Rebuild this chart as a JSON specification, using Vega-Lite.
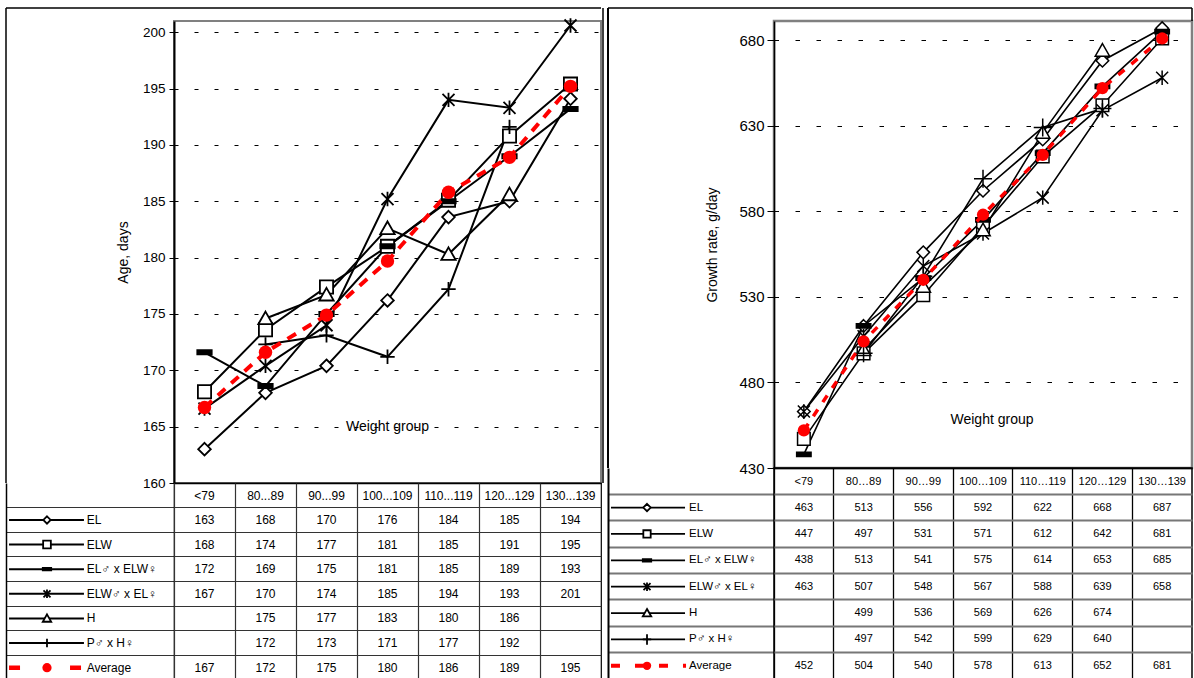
{
  "$schema": "https://vega.github.io/schema/vega-lite/v6.json",
  "padding": {"left": 5, "top": 5, "right": 0, "bottom": 0},
  "background": "white",
  "config": {"font": "Liberation Sans", "view": {"stroke": null}},
  "datasets": {
    "age": [
      {"s": "EL", "c": "<79", "v": 163.0}, {"s": "EL", "c": "80...89", "v": 168.0}, {"s": "EL", "c": "90...99", "v": 170.4}, {"s": "EL", "c": "100...109", "v": 176.2}, {"s": "EL", "c": "110...119", "v": 183.6}, {"s": "EL", "c": "120...129", "v": 185.0}, {"s": "EL", "c": "130...139", "v": 194.1},
      {"s": "ELW", "c": "<79", "v": 168.1}, {"s": "ELW", "c": "80...89", "v": 173.6}, {"s": "ELW", "c": "90...99", "v": 177.4}, {"s": "ELW", "c": "100...109", "v": 181.0}, {"s": "ELW", "c": "110...119", "v": 185.1}, {"s": "ELW", "c": "120...129", "v": 190.8}, {"s": "ELW", "c": "130...139", "v": 195.4},
      {"s": "EL♂ x ELW♀", "c": "<79", "v": 171.6}, {"s": "EL♂ x ELW♀", "c": "80...89", "v": 168.6}, {"s": "EL♂ x ELW♀", "c": "90...99", "v": 175.0}, {"s": "EL♂ x ELW♀", "c": "100...109", "v": 181.0}, {"s": "EL♂ x ELW♀", "c": "110...119", "v": 185.0}, {"s": "EL♂ x ELW♀", "c": "120...129", "v": 189.0}, {"s": "EL♂ x ELW♀", "c": "130...139", "v": 193.2},
      {"s": "ELW♂ x EL♀", "c": "<79", "v": 166.6}, {"s": "ELW♂ x EL♀", "c": "80...89", "v": 170.4}, {"s": "ELW♂ x EL♀", "c": "90...99", "v": 174.0}, {"s": "ELW♂ x EL♀", "c": "100...109", "v": 185.2}, {"s": "ELW♂ x EL♀", "c": "110...119", "v": 194.0}, {"s": "ELW♂ x EL♀", "c": "120...129", "v": 193.3}, {"s": "ELW♂ x EL♀", "c": "130...139", "v": 200.6},
      {"s": "H", "c": "80...89", "v": 174.6}, {"s": "H", "c": "90...99", "v": 176.7}, {"s": "H", "c": "100...109", "v": 182.6}, {"s": "H", "c": "110...119", "v": 180.3}, {"s": "H", "c": "120...129", "v": 185.6},
      {"s": "P♂ x H♀", "c": "80...89", "v": 172.3}, {"s": "P♂ x H♀", "c": "90...99", "v": 173.1}, {"s": "P♂ x H♀", "c": "100...109", "v": 171.2}, {"s": "P♂ x H♀", "c": "110...119", "v": 177.2}, {"s": "P♂ x H♀", "c": "120...129", "v": 191.6},
      {"s": "Average", "c": "<79", "v": 166.7}, {"s": "Average", "c": "80...89", "v": 171.6}, {"s": "Average", "c": "90...99", "v": 174.9}, {"s": "Average", "c": "100...109", "v": 179.7}, {"s": "Average", "c": "110...119", "v": 185.8}, {"s": "Average", "c": "120...129", "v": 188.9}, {"s": "Average", "c": "130...139", "v": 195.2}
    ],
    "growth": [
      {"s": "EL", "c": "<79", "v": 463}, {"s": "EL", "c": "80…89", "v": 513}, {"s": "EL", "c": "90…99", "v": 556}, {"s": "EL", "c": "100…109", "v": 592}, {"s": "EL", "c": "110…119", "v": 622}, {"s": "EL", "c": "120…129", "v": 668}, {"s": "EL", "c": "130…139", "v": 687},
      {"s": "ELW", "c": "<79", "v": 447}, {"s": "ELW", "c": "80…89", "v": 497}, {"s": "ELW", "c": "90…99", "v": 531}, {"s": "ELW", "c": "100…109", "v": 571}, {"s": "ELW", "c": "110…119", "v": 612}, {"s": "ELW", "c": "120…129", "v": 642}, {"s": "ELW", "c": "130…139", "v": 681},
      {"s": "EL♂ x ELW♀", "c": "<79", "v": 438}, {"s": "EL♂ x ELW♀", "c": "80…89", "v": 513}, {"s": "EL♂ x ELW♀", "c": "90…99", "v": 541}, {"s": "EL♂ x ELW♀", "c": "100…109", "v": 575}, {"s": "EL♂ x ELW♀", "c": "110…119", "v": 614}, {"s": "EL♂ x ELW♀", "c": "120…129", "v": 653}, {"s": "EL♂ x ELW♀", "c": "130…139", "v": 685},
      {"s": "ELW♂ x EL♀", "c": "<79", "v": 463}, {"s": "ELW♂ x EL♀", "c": "80…89", "v": 507}, {"s": "ELW♂ x EL♀", "c": "90…99", "v": 548}, {"s": "ELW♂ x EL♀", "c": "100…109", "v": 567}, {"s": "ELW♂ x EL♀", "c": "110…119", "v": 588}, {"s": "ELW♂ x EL♀", "c": "120…129", "v": 639}, {"s": "ELW♂ x EL♀", "c": "130…139", "v": 658},
      {"s": "H", "c": "80…89", "v": 499}, {"s": "H", "c": "90…99", "v": 536}, {"s": "H", "c": "100…109", "v": 569}, {"s": "H", "c": "110…119", "v": 626}, {"s": "H", "c": "120…129", "v": 674},
      {"s": "P♂ x H♀", "c": "80…89", "v": 497}, {"s": "P♂ x H♀", "c": "90…99", "v": 542}, {"s": "P♂ x H♀", "c": "100…109", "v": 599}, {"s": "P♂ x H♀", "c": "110…119", "v": 629}, {"s": "P♂ x H♀", "c": "120…129", "v": 640},
      {"s": "Average", "c": "<79", "v": 452}, {"s": "Average", "c": "80…89", "v": 504}, {"s": "Average", "c": "90…99", "v": 540}, {"s": "Average", "c": "100…109", "v": 578}, {"s": "Average", "c": "110…119", "v": 613}, {"s": "Average", "c": "120…129", "v": 652}, {"s": "Average", "c": "130…139", "v": 681}
    ]
  },
  "spacing": 2,
  "resolve": {"scale": {"x": "independent", "y": "independent", "shape": "independent", "fill": "independent"}},
  "hconcat": [
    {
      "columns": 2, "spacing": 0, "bounds": "flush",
      "resolve": {"scale": {"x": "independent", "y": "independent", "shape": "independent", "fill": "independent"}},
      "concat": [
        {
          "width": 168, "height": 462,
          "data": {"values": [{}]},
          "view": {"stroke": null},
          "layer": [
            {"mark": {"type": "rule", "clip": false, "color": "#000", "strokeWidth": 1.5},
             "encoding": {"x": {"datum": 0, "type": "quantitative", "scale": {"domain": [0, 1]}, "axis": null},
                          "y": {"datum": 0, "type": "quantitative", "scale": {"domain": [0, 1]}, "axis": null},
                          "y2": {"datum": 1.0281}}},
            {"mark": {"type": "rule", "clip": false, "color": "#000", "strokeWidth": 1.5},
             "encoding": {"x": {"datum": 0, "type": "quantitative", "axis": null}, "x2": {"datum": 1},
                          "y": {"datum": 1.0281, "type": "quantitative", "axis": null}}}
          ]
        },
        {
          "width": 427, "height": 462,
          "view": {"stroke": "#808080", "strokeWidth": 2},
          "layer": [
            {"data": {"name": "age"}, "transform": [{"filter": "datum.s !== 'Average'"}],
             "mark": {"type": "line", "color": "#000", "strokeWidth": 2},
             "encoding": {
               "x": {"field": "c", "type": "nominal", "scale": {"type": "band", "domain": ["<79", "80...89", "90...99", "100...109", "110...119", "120...129", "130...139"], "paddingInner": 0, "paddingOuter": 0},
                     "axis": {"title": null, "labels": false, "ticks": false, "grid": false, "domainColor": "#000", "domainWidth": 1.5}},
               "y": {"field": "v", "type": "quantitative", "scale": {"domain": [160, 201], "nice": false, "zero": false},
                     "axis": {"values": [160, 165, 170, 175, 180, 185, 190, 195, 200], "title": "Age, days", "titleFontSize": 14, "titleFontWeight": "normal", "titleColor": "#000", "titlePadding": 12,
                              "labelFontSize": 13.5, "labelColor": "#000", "labelPadding": 4, "tickSize": 5, "tickColor": "#000", "domainColor": "#000", "domainWidth": 2,
                              "grid": true, "gridColor": "#000", "gridDash": [4, 16], "gridWidth": 1, "gridOpacity": 1}},
               "detail": {"field": "s"}
             }},
            {"data": {"name": "age"}, "transform": [{"filter": "datum.s !== 'Average'"}],
             "mark": {"type": "point", "opacity": 1, "size": 144, "strokeWidth": 1.8, "stroke": "#000"},
             "encoding": {
               "x": {"field": "c", "type": "nominal"},
               "y": {"field": "v", "type": "quantitative"},
               "shape": {"field": "s", "type": "nominal", "legend": null, "scale": {"domain": ["EL", "ELW", "EL♂ x ELW♀", "ELW♂ x EL♀", "H", "P♂ x H♀"], "range": ["M0,-1.05L1.05,0L0,1.05L-1.05,0Z", "M-1.1,-1.1H1.1V1.1H-1.1Z", "M-1.2,-0.35H1.2V0.35H-1.2Z", "M-1,-1L1,1M-1,1L1,-1M0,-1.2V1.2", "M0,-1.15L1.2,0.95H-1.2Z", "M-1.2,0H1.2M0,-1.2V1.2"]}},
               "fill": {"field": "s", "type": "nominal", "legend": null, "scale": {"domain": ["EL", "ELW", "EL♂ x ELW♀", "ELW♂ x EL♀", "H", "P♂ x H♀"], "range": ["#fff", "#fff", "#000", "#fff", "#fff", "#fff"]}}
             }},
            {"data": {"name": "age"}, "transform": [{"filter": "datum.s === 'Average'"}],
             "mark": {"type": "line", "color": "#ff0000", "strokeWidth": 4, "strokeDash": [10, 8]},
             "encoding": {"x": {"field": "c", "type": "nominal"}, "y": {"field": "v", "type": "quantitative"}}},
            {"data": {"name": "age"}, "transform": [{"filter": "datum.s === 'Average'"}],
             "mark": {"type": "point", "shape": "circle", "filled": true, "opacity": 1, "size": 180, "color": "#ff0000"},
             "encoding": {"x": {"field": "c", "type": "nominal"}, "y": {"field": "v", "type": "quantitative"}}},
            {"data": {"values": [{}]},
             "mark": {"type": "text", "text": "Weight group", "fontSize": 14, "color": "#000"},
             "encoding": {"x": {"datum": "100...109"}, "y": {"datum": 165}}},
            {"data": {"values": [{}]},
             "mark": {"type": "rule", "clip": false, "color": "#000", "strokeWidth": 1.5},
             "encoding": {"y": {"datum": 202.154}}},
            {"data": {"values": [{}]},
             "mark": {"type": "rule", "clip": false, "color": "#000", "strokeWidth": 1.5, "xOffset": 2},
             "encoding": {"x": {"datum": "130...139", "bandPosition": 1}, "y": {"datum": 202.154}, "y2": {"datum": 160}}}
          ]
        },
        {
          "width": 168, "height": 197,
          "data": {"name": "age"},
          "transform": [{"aggregate": [{"op": "count", "as": "n"}], "groupby": ["s"]}],
          "view": {"stroke": null},
          "encoding": {
            "y": {"field": "s", "type": "nominal", "scale": {"type": "band", "domain": ["hdr", "EL", "ELW", "EL♂ x ELW♀", "ELW♂ x EL♀", "H", "P♂ x H♀", "Average"], "paddingInner": 0, "paddingOuter": 0},
                  "axis": {"title": null, "labels": false, "ticks": false, "domain": true, "domainColor": "#000", "domainWidth": 1.5, "grid": true, "bandPosition": 0, "values": ["EL", "ELW", "EL♂ x ELW♀", "ELW♂ x EL♀", "H", "P♂ x H♀", "Average"], "gridColor": "#333", "gridWidth": 1.2, "gridOpacity": 1}}
          },
          "layer": [
            {"transform": [{"filter": "datum.s !== 'Average'"}],
             "mark": {"type": "rule", "color": "#000", "strokeWidth": 2},
             "encoding": {"x": {"datum": 0.018, "type": "quantitative", "scale": {"domain": [0, 1]}, "axis": null}, "x2": {"datum": 0.464}}},
            {"transform": [{"filter": "datum.s !== 'Average'"}],
             "mark": {"type": "point", "opacity": 1, "size": 49, "strokeWidth": 1.8, "stroke": "#000"},
             "encoding": {
               "x": {"datum": 0.244, "type": "quantitative", "axis": null},
               "shape": {"field": "s", "type": "nominal", "legend": null, "scale": {"domain": ["EL", "ELW", "EL♂ x ELW♀", "ELW♂ x EL♀", "H", "P♂ x H♀"], "range": ["M0,-1.05L1.05,0L0,1.05L-1.05,0Z", "M-1.1,-1.1H1.1V1.1H-1.1Z", "M-1.2,-0.35H1.2V0.35H-1.2Z", "M-1,-1L1,1M-1,1L1,-1M0,-1.2V1.2", "M0,-1.15L1.2,0.95H-1.2Z", "M-1.2,0H1.2M0,-1.2V1.2"]}},
               "fill": {"field": "s", "type": "nominal", "legend": null, "scale": {"domain": ["EL", "ELW", "EL♂ x ELW♀", "ELW♂ x EL♀", "H", "P♂ x H♀"], "range": ["#fff", "#fff", "#000", "#fff", "#fff", "#fff"]}}
             }},
            {"transform": [{"filter": "datum.s === 'Average'"}],
             "mark": {"type": "rule", "color": "#ff0000", "strokeWidth": 4.5, "strokeDash": [11, 50]},
             "encoding": {"x": {"datum": 0.018, "type": "quantitative", "axis": null}, "x2": {"datum": 0.464}}},
            {"transform": [{"filter": "datum.s === 'Average'"}],
             "mark": {"type": "point", "shape": "circle", "filled": true, "opacity": 1, "size": 85, "color": "#ff0000"},
             "encoding": {"x": {"datum": 0.244, "type": "quantitative", "axis": null}}},
            {"mark": {"type": "text", "align": "left", "fontSize": 12, "color": "#000", "font": "Liberation Sans, DejaVu Sans"},
             "encoding": {"x": {"datum": 0.48, "type": "quantitative", "axis": null}, "text": {"field": "s"}}}
          ]
        },
        {
          "width": 427, "height": 197,
          "data": {"name": "age"},
          "view": {"stroke": "#000", "strokeWidth": 1.2},
          "mark": {"type": "text", "fontSize": 12, "color": "#000"},
          "encoding": {
            "x": {"field": "c", "type": "nominal", "scale": {"type": "band", "domain": ["<79", "80...89", "90...99", "100...109", "110...119", "120...129", "130...139"], "paddingInner": 0, "paddingOuter": 0},
                  "axis": {"orient": "top", "title": null, "ticks": false, "domain": false, "labelPadding": -12, "labelBaseline": "middle", "labelFontSize": 12, "labelColor": "#000", "labelAngle": 0,
                           "grid": true, "bandPosition": 0, "gridColor": "#333", "gridWidth": 1.2, "gridOpacity": 1}},
            "y": {"field": "s", "type": "nominal", "scale": {"type": "band", "domain": ["hdr", "EL", "ELW", "EL♂ x ELW♀", "ELW♂ x EL♀", "H", "P♂ x H♀", "Average"], "paddingInner": 0, "paddingOuter": 0},
                  "axis": {"title": null, "labels": false, "ticks": false, "domain": false, "grid": true, "bandPosition": 0, "values": ["EL", "ELW", "EL♂ x ELW♀", "ELW♂ x EL♀", "H", "P♂ x H♀", "Average"], "gridColor": "#333", "gridWidth": 1.2, "gridOpacity": 1}},
            "text": {"field": "v", "type": "quantitative", "format": ".0f"}
          }
        }
      ]
    },
    {
      "columns": 2, "spacing": 0, "bounds": "flush",
      "resolve": {"scale": {"x": "independent", "y": "independent", "shape": "independent", "fill": "independent"}},
      "concat": [
        {
          "width": 166, "height": 447,
          "data": {"values": [{}]},
          "view": {"stroke": null},
          "layer": [
            {"mark": {"type": "rule", "clip": false, "color": "#000", "strokeWidth": 2},
             "encoding": {"x": {"datum": 0, "type": "quantitative", "scale": {"domain": [0, 1]}, "axis": null},
                          "y": {"datum": 0, "type": "quantitative", "scale": {"domain": [0, 1]}, "axis": null},
                          "y2": {"datum": 1.0291}}},
            {"mark": {"type": "rule", "clip": false, "color": "#000", "strokeWidth": 1.5},
             "encoding": {"x": {"datum": 0, "type": "quantitative", "axis": null}, "x2": {"datum": 1},
                          "y": {"datum": 1.0291, "type": "quantitative", "axis": null}}}
          ]
        },
        {
          "width": 418, "height": 447,
          "view": {"stroke": "#808080", "strokeWidth": 2.5},
          "layer": [
            {"data": {"name": "growth"}, "transform": [{"filter": "datum.s !== 'Average'"}],
             "mark": {"type": "line", "color": "#000", "strokeWidth": 1.6},
             "encoding": {
               "x": {"field": "c", "type": "nominal", "scale": {"type": "band", "domain": ["<79", "80…89", "90…99", "100…109", "110…119", "120…129", "130…139"], "paddingInner": 0, "paddingOuter": 0},
                     "axis": {"title": null, "labels": false, "ticks": false, "grid": false, "domainColor": "#000", "domainWidth": 1.5}},
               "y": {"field": "v", "type": "quantitative", "scale": {"domain": [430, 691.2], "nice": false, "zero": false},
                     "axis": {"values": [430, 480, 530, 580, 630, 680], "title": "Growth rate, g/day", "titleFontSize": 14, "titleFontWeight": "normal", "titleColor": "#000", "titlePadding": 19,
                              "labelFontSize": 15, "labelColor": "#000", "labelPadding": 3, "tickSize": 7, "tickColor": "#000", "domainColor": "#000", "domainWidth": 1.5,
                              "grid": true, "gridColor": "#000", "gridDash": [4.5, 16.5], "gridWidth": 1, "gridOpacity": 1}},
               "detail": {"field": "s"}
             }},
            {"data": {"name": "growth"}, "transform": [{"filter": "datum.s !== 'Average'"}],
             "mark": {"type": "point", "opacity": 1, "size": 144, "strokeWidth": 1.5, "stroke": "#000"},
             "encoding": {
               "x": {"field": "c", "type": "nominal"},
               "y": {"field": "v", "type": "quantitative"},
               "shape": {"field": "s", "type": "nominal", "legend": null, "scale": {"domain": ["EL", "ELW", "EL♂ x ELW♀", "ELW♂ x EL♀", "H", "P♂ x H♀"], "range": ["M0,-1.05L1.05,0L0,1.05L-1.05,0Z", "M-1.05,-1.05H1.05V1.05H-1.05Z", "M-1.2,-0.35H1.2V0.35H-1.2Z", "M-1,-1L1,1M-1,1L1,-1M0,-1.2V1.2", "M0,-1.15L1.2,0.95H-1.2Z", "M-1.5,0H1.5M0,-1.5V1.5"]}},
               "fill": {"field": "s", "type": "nominal", "legend": null, "scale": {"domain": ["EL", "ELW", "EL♂ x ELW♀", "ELW♂ x EL♀", "H", "P♂ x H♀"], "range": ["#fff", "#fff", "#000", "#fff", "#fff", "#fff"]}}
             }},
            {"data": {"name": "growth"}, "transform": [{"filter": "datum.s === 'Average'"}],
             "mark": {"type": "line", "color": "#ff0000", "strokeWidth": 3.5, "strokeDash": [8, 9]},
             "encoding": {"x": {"field": "c", "type": "nominal"}, "y": {"field": "v", "type": "quantitative"}}},
            {"data": {"name": "growth"}, "transform": [{"filter": "datum.s === 'Average'"}],
             "mark": {"type": "point", "shape": "circle", "filled": true, "opacity": 1, "size": 150, "color": "#ff0000"},
             "encoding": {"x": {"field": "c", "type": "nominal"}, "y": {"field": "v", "type": "quantitative"}}},
            {"data": {"values": [{}]},
             "mark": {"type": "text", "text": "Weight group", "fontSize": 14, "color": "#000", "dx": 9},
             "encoding": {"x": {"datum": "100…109"}, "y": {"datum": 458}}},
            {"data": {"values": [{}]},
             "mark": {"type": "rule", "clip": false, "color": "#000", "strokeWidth": 1.5},
             "encoding": {"y": {"datum": 698.8}}},
            {"data": {"values": [{}]},
             "mark": {"type": "rule", "clip": false, "color": "#000", "strokeWidth": 1.5},
             "encoding": {"x": {"datum": "130…139", "bandPosition": 1}, "y": {"datum": 698.8}, "y2": {"datum": 691.2}}}
          ]
        },
        {
          "width": 166, "height": 211,
          "data": {"name": "growth"},
          "transform": [{"aggregate": [{"op": "count", "as": "n"}], "groupby": ["s"]}],
          "view": {"stroke": null},
          "encoding": {
            "y": {"field": "s", "type": "nominal", "scale": {"type": "band", "domain": ["hdr", "EL", "ELW", "EL♂ x ELW♀", "ELW♂ x EL♀", "H", "P♂ x H♀", "Average"], "paddingInner": 0, "paddingOuter": 0},
                  "axis": {"title": null, "labels": false, "ticks": false, "domain": true, "domainColor": "#000", "domainWidth": 2, "grid": true, "bandPosition": 0, "values": ["EL", "ELW", "EL♂ x ELW♀", "ELW♂ x EL♀", "H", "P♂ x H♀", "Average"], "gridColor": "#777", "gridWidth": 1.8, "gridOpacity": 1}}
          },
          "layer": [
            {"transform": [{"filter": "datum.s !== 'Average'"}],
             "mark": {"type": "rule", "color": "#000", "strokeWidth": 1.8},
             "encoding": {"x": {"datum": 0.018, "type": "quantitative", "scale": {"domain": [0, 1]}, "axis": null}, "x2": {"datum": 0.464}}},
            {"transform": [{"filter": "datum.s !== 'Average'"}],
             "mark": {"type": "point", "opacity": 1, "size": 49, "strokeWidth": 1.8, "stroke": "#000"},
             "encoding": {
               "x": {"datum": 0.235, "type": "quantitative", "axis": null},
               "shape": {"field": "s", "type": "nominal", "legend": null, "scale": {"domain": ["EL", "ELW", "EL♂ x ELW♀", "ELW♂ x EL♀", "H", "P♂ x H♀"], "range": ["M0,-1.05L1.05,0L0,1.05L-1.05,0Z", "M-1.05,-1.05H1.05V1.05H-1.05Z", "M-1.2,-0.35H1.2V0.35H-1.2Z", "M-1,-1L1,1M-1,1L1,-1M0,-1.2V1.2", "M0,-1.15L1.2,0.95H-1.2Z", "M-1.2,0H1.2M0,-1.5V1.5"]}},
               "fill": {"field": "s", "type": "nominal", "legend": null, "scale": {"domain": ["EL", "ELW", "EL♂ x ELW♀", "ELW♂ x EL♀", "H", "P♂ x H♀"], "range": ["#fff", "#fff", "#000", "#fff", "#fff", "#fff"]}}
             }},
            {"transform": [{"filter": "datum.s === 'Average'"}],
             "mark": {"type": "rule", "color": "#ff0000", "strokeWidth": 4, "strokeDash": [9, 15]},
             "encoding": {"x": {"datum": 0.018, "type": "quantitative", "axis": null}, "x2": {"datum": 0.47}}},
            {"transform": [{"filter": "datum.s === 'Average'"}],
             "mark": {"type": "point", "shape": "circle", "filled": true, "opacity": 1, "size": 70, "color": "#ff0000"},
             "encoding": {"x": {"datum": 0.235, "type": "quantitative", "axis": null}}},
            {"mark": {"type": "text", "align": "left", "fontSize": 11.5, "color": "#000", "font": "Liberation Sans, DejaVu Sans"},
             "encoding": {"x": {"datum": 0.488, "type": "quantitative", "axis": null}, "text": {"field": "s"}}}
          ]
        },
        {
          "width": 418, "height": 211,
          "data": {"name": "growth"},
          "view": {"stroke": "#000", "strokeWidth": 1.5},
          "mark": {"type": "text", "fontSize": 11, "color": "#000"},
          "encoding": {
            "x": {"field": "c", "type": "nominal", "scale": {"type": "band", "domain": ["<79", "80…89", "90…99", "100…109", "110…119", "120…129", "130…139"], "paddingInner": 0, "paddingOuter": 0},
                  "axis": {"orient": "top", "title": null, "ticks": false, "domain": false, "labelPadding": -13, "labelBaseline": "middle", "labelFontSize": 11, "labelColor": "#000", "labelAngle": 0,
                           "grid": true, "bandPosition": 0, "gridColor": "#000", "gridWidth": 1.3, "gridOpacity": 1}},
            "y": {"field": "s", "type": "nominal", "scale": {"type": "band", "domain": ["hdr", "EL", "ELW", "EL♂ x ELW♀", "ELW♂ x EL♀", "H", "P♂ x H♀", "Average"], "paddingInner": 0, "paddingOuter": 0},
                  "axis": {"title": null, "labels": false, "ticks": false, "domain": false, "grid": true, "bandPosition": 0, "values": ["EL", "ELW", "EL♂ x ELW♀", "ELW♂ x EL♀", "H", "P♂ x H♀", "Average"], "gridColor": "#777", "gridWidth": 1.8, "gridOpacity": 1}},
            "text": {"field": "v", "type": "quantitative", "format": ".0f"}
          }
        }
      ]
    }
  ]
}
